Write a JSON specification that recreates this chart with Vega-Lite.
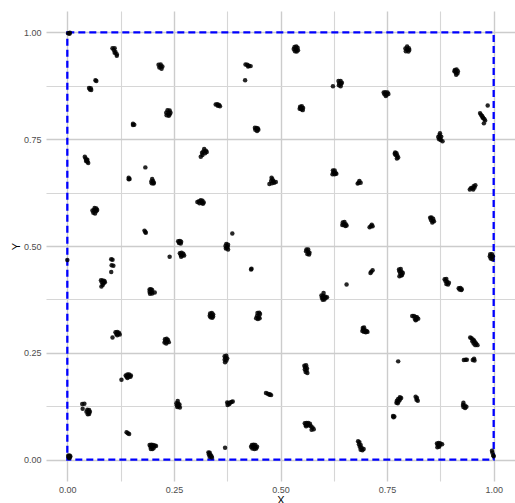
{
"$schema":"https://vega.github.io/schema/vega-lite/v6.json",
"width":469,"height":470,
"autosize":{"type":"none"},
"padding":{"left":46,"top":11,"right":0,"bottom":22},
"background":"white",
"config":{"view":{"stroke":null},"font":"Liberation Sans",
"axis":{"domain":false,"ticks":false,"labelOverlap":false,"labelFont":"Liberation Sans","labelFontSize":9,"labelColor":"#4d4d4d","titleFont":"Liberation Sans","titleFontSize":11,"titleFontWeight":"normal","titleColor":"#000000","gridColor":{"condition":{"test":"datum.value*8 % 2 == 0","value":"#cccccc"},"value":"#d6d6d6"},"gridWidth":{"condition":{"test":"datum.value*8 % 2 == 0","value":1.4},"value":1.1},"labelExpr":"datum.value*8 % 2 == 0 ? format(datum.value,'.2f') : ''"},
"axisX":{"labelPadding":4,"titlePadding":0},
"axisY":{"labelPadding":5,"titlePadding":2}},
"layer":[
{"data":{"values":[{"x0":0,"x1":1,"y0":0,"y1":1}]},
"mark":{"type":"rect","filled":false,"color":"#0000ff","strokeWidth":2.3,"strokeDash":[7,4]},
"encoding":{"x":{"field":"x0","type":"quantitative","title":"X","axis":{"values":[0,0.125,0.25,0.375,0.5,0.625,0.75,0.875,1]},"scale":{"domain":[-0.05,1.05],"nice":false,"zero":false}},"x2":{"field":"x1"},"y":{"field":"y0","type":"quantitative","title":"Y","axis":{"values":[0,0.125,0.25,0.375,0.5,0.625,0.75,0.875,1]},"scale":{"domain":[-0.05,1.05],"nice":false,"zero":false}},"y2":{"field":"y1"}}},
{"data":{"values":[
{"x":0.002,"y":0.998},{"x":0.006,"y":0.999},{"x":0.005,"y":0.997},
{"x":0.106,"y":0.963},{"x":0.111,"y":0.963},{"x":0.109,"y":0.959},{"x":0.113,"y":0.954},{"x":0.116,"y":0.949},{"x":0.116,"y":0.945},{"x":0.111,"y":0.952},
{"x":0.214,"y":0.924},{"x":0.219,"y":0.925},{"x":0.223,"y":0.920},{"x":0.216,"y":0.918},{"x":0.221,"y":0.915},{"x":0.219,"y":0.920},
{"x":0.051,"y":0.870},{"x":0.055,"y":0.869},{"x":0.053,"y":0.866},{"x":0.056,"y":0.865},{"x":0.066,"y":0.888},{"x":0.068,"y":0.886},
{"x":0.418,"y":0.925},{"x":0.422,"y":0.924},{"x":0.426,"y":0.922},{"x":0.430,"y":0.921},{"x":0.424,"y":0.920},{"x":0.417,"y":0.888},
{"x":0.348,"y":0.831},{"x":0.352,"y":0.832},{"x":0.356,"y":0.830},{"x":0.358,"y":0.827},{"x":0.353,"y":0.828},
{"x":0.235,"y":0.818},{"x":0.240,"y":0.817},{"x":0.242,"y":0.812},{"x":0.237,"y":0.810},{"x":0.233,"y":0.806},{"x":0.238,"y":0.805},{"x":0.232,"y":0.812},{"x":0.240,"y":0.808},
{"x":0.154,"y":0.786},{"x":0.157,"y":0.784},{"x":0.154,"y":0.783},
{"x":0.440,"y":0.777},{"x":0.444,"y":0.776},{"x":0.448,"y":0.772},{"x":0.445,"y":0.769},{"x":0.441,"y":0.772},{"x":0.447,"y":0.775},
{"x":0.041,"y":0.709},{"x":0.043,"y":0.705},{"x":0.045,"y":0.701},{"x":0.047,"y":0.697},{"x":0.049,"y":0.694},{"x":0.044,"y":0.699},{"x":0.047,"y":0.702},
{"x":0.321,"y":0.727},{"x":0.325,"y":0.723},{"x":0.319,"y":0.721},{"x":0.323,"y":0.717},{"x":0.317,"y":0.713},{"x":0.313,"y":0.709},{"x":0.316,"y":0.718},{"x":0.327,"y":0.720},
{"x":0.144,"y":0.660},{"x":0.146,"y":0.657},{"x":0.144,"y":0.656},{"x":0.183,"y":0.684},
{"x":0.199,"y":0.657},{"x":0.197,"y":0.651},{"x":0.201,"y":0.652},{"x":0.203,"y":0.648},{"x":0.198,"y":0.647},{"x":0.202,"y":0.646},
{"x":0.064,"y":0.589},{"x":0.068,"y":0.588},{"x":0.059,"y":0.583},{"x":0.063,"y":0.584},{"x":0.068,"y":0.582},{"x":0.061,"y":0.578},{"x":0.065,"y":0.576},{"x":0.070,"y":0.584},
{"x":0.305,"y":0.603},{"x":0.309,"y":0.605},{"x":0.313,"y":0.607},{"x":0.317,"y":0.606},{"x":0.320,"y":0.602},{"x":0.315,"y":0.601},{"x":0.310,"y":0.600},{"x":0.318,"y":0.599},
{"x":0.181,"y":0.536},{"x":0.183,"y":0.533},{"x":0.184,"y":0.531},
{"x":0.260,"y":0.511},{"x":0.264,"y":0.512},{"x":0.267,"y":0.510},{"x":0.262,"y":0.507},{"x":0.266,"y":0.506},{"x":0.263,"y":0.509},{"x":0.387,"y":0.529},
{"x":0.373,"y":0.505},{"x":0.377,"y":0.503},{"x":0.371,"y":0.500},{"x":0.376,"y":0.498},{"x":0.372,"y":0.494},{"x":0.377,"y":0.492},{"x":0.374,"y":0.496},
{"x":0.533,"y":0.966},{"x":0.537,"y":0.967},{"x":0.540,"y":0.964},{"x":0.531,"y":0.961},{"x":0.536,"y":0.960},{"x":0.541,"y":0.958},{"x":0.534,"y":0.956},{"x":0.538,"y":0.955},
{"x":0.797,"y":0.967},{"x":0.793,"y":0.962},{"x":0.801,"y":0.963},{"x":0.797,"y":0.960},{"x":0.794,"y":0.956},{"x":0.800,"y":0.955},{"x":0.802,"y":0.959},
{"x":0.909,"y":0.912},{"x":0.913,"y":0.913},{"x":0.916,"y":0.909},{"x":0.911,"y":0.906},{"x":0.915,"y":0.904},{"x":0.912,"y":0.901},{"x":0.908,"y":0.909},
{"x":0.636,"y":0.886},{"x":0.641,"y":0.886},{"x":0.638,"y":0.881},{"x":0.642,"y":0.879},{"x":0.637,"y":0.876},{"x":0.641,"y":0.874},{"x":0.644,"y":0.882},{"x":0.623,"y":0.874},
{"x":0.742,"y":0.859},{"x":0.746,"y":0.860},{"x":0.751,"y":0.859},{"x":0.744,"y":0.855},{"x":0.749,"y":0.854},{"x":0.747,"y":0.851},{"x":0.753,"y":0.856},
{"x":0.546,"y":0.826},{"x":0.550,"y":0.827},{"x":0.553,"y":0.823},{"x":0.545,"y":0.821},{"x":0.549,"y":0.820},{"x":0.552,"y":0.818},{"x":0.548,"y":0.823},
{"x":0.968,"y":0.811},{"x":0.970,"y":0.807},{"x":0.973,"y":0.804},{"x":0.975,"y":0.800},{"x":0.978,"y":0.797},{"x":0.980,"y":0.794},{"x":0.974,"y":0.801},{"x":0.986,"y":0.829},{"x":0.977,"y":0.787},
{"x":0.874,"y":0.764},{"x":0.873,"y":0.759},{"x":0.870,"y":0.755},{"x":0.874,"y":0.752},{"x":0.877,"y":0.756},{"x":0.876,"y":0.748},{"x":0.880,"y":0.745},{"x":0.872,"y":0.750},
{"x":0.769,"y":0.719},{"x":0.772,"y":0.717},{"x":0.770,"y":0.713},{"x":0.774,"y":0.711},{"x":0.776,"y":0.707},{"x":0.773,"y":0.705},{"x":0.768,"y":0.716},
{"x":0.623,"y":0.677},{"x":0.627,"y":0.677},{"x":0.624,"y":0.672},{"x":0.629,"y":0.671},{"x":0.622,"y":0.668},{"x":0.627,"y":0.668},{"x":0.631,"y":0.669},
{"x":0.685,"y":0.652},{"x":0.683,"y":0.648},{"x":0.688,"y":0.648},{"x":0.681,"y":0.646},
{"x":0.479,"y":0.660},{"x":0.481,"y":0.656},{"x":0.478,"y":0.652},{"x":0.483,"y":0.652},{"x":0.480,"y":0.647},{"x":0.485,"y":0.648},{"x":0.489,"y":0.650},{"x":0.474,"y":0.645},
{"x":0.944,"y":0.632},{"x":0.947,"y":0.636},{"x":0.950,"y":0.635},{"x":0.953,"y":0.640},{"x":0.957,"y":0.642},{"x":0.955,"y":0.637},{"x":0.952,"y":0.632},
{"x":0.646,"y":0.555},{"x":0.650,"y":0.556},{"x":0.653,"y":0.551},{"x":0.648,"y":0.550},{"x":0.652,"y":0.547},{"x":0.655,"y":0.548},{"x":0.645,"y":0.549},
{"x":0.714,"y":0.550},{"x":0.712,"y":0.546},{"x":0.716,"y":0.546},{"x":0.709,"y":0.544},
{"x":0.851,"y":0.566},{"x":0.854,"y":0.567},{"x":0.858,"y":0.564},{"x":0.853,"y":0.561},{"x":0.857,"y":0.559},{"x":0.856,"y":0.555},{"x":0.860,"y":0.558},
{"x":0.561,"y":0.492},{"x":0.565,"y":0.492},{"x":0.560,"y":0.488},{"x":0.565,"y":0.486},{"x":0.568,"y":0.484},{"x":0.563,"y":0.481},{"x":0.567,"y":0.480},
{"x":0.000,"y":0.467},
{"x":0.103,"y":0.469},{"x":0.106,"y":0.468},{"x":0.104,"y":0.455},{"x":0.108,"y":0.454},{"x":0.103,"y":0.439},
{"x":0.079,"y":0.420},{"x":0.083,"y":0.419},{"x":0.087,"y":0.418},{"x":0.081,"y":0.415},{"x":0.085,"y":0.413},{"x":0.083,"y":0.409},{"x":0.080,"y":0.405},{"x":0.088,"y":0.415},
{"x":0.193,"y":0.398},{"x":0.196,"y":0.399},{"x":0.199,"y":0.397},{"x":0.193,"y":0.393},{"x":0.197,"y":0.392},{"x":0.194,"y":0.388},{"x":0.199,"y":0.389},{"x":0.205,"y":0.391},
{"x":0.264,"y":0.483},{"x":0.268,"y":0.484},{"x":0.272,"y":0.482},{"x":0.266,"y":0.479},{"x":0.270,"y":0.478},{"x":0.267,"y":0.475},{"x":0.274,"y":0.478},{"x":0.240,"y":0.475},
{"x":0.431,"y":0.445},{"x":0.432,"y":0.447},
{"x":0.335,"y":0.342},{"x":0.339,"y":0.343},{"x":0.342,"y":0.340},{"x":0.334,"y":0.337},{"x":0.338,"y":0.337},{"x":0.342,"y":0.335},{"x":0.336,"y":0.333},{"x":0.340,"y":0.332},
{"x":0.446,"y":0.343},{"x":0.450,"y":0.344},{"x":0.452,"y":0.341},{"x":0.445,"y":0.336},{"x":0.449,"y":0.334},{"x":0.443,"y":0.331},{"x":0.447,"y":0.329},{"x":0.451,"y":0.331},
{"x":0.113,"y":0.298},{"x":0.117,"y":0.299},{"x":0.121,"y":0.297},{"x":0.115,"y":0.294},{"x":0.119,"y":0.294},{"x":0.123,"y":0.293},{"x":0.117,"y":0.291},{"x":0.106,"y":0.286},
{"x":0.229,"y":0.282},{"x":0.233,"y":0.283},{"x":0.236,"y":0.280},{"x":0.230,"y":0.277},{"x":0.234,"y":0.276},{"x":0.238,"y":0.275},{"x":0.232,"y":0.272},{"x":0.228,"y":0.274},
{"x":0.369,"y":0.242},{"x":0.373,"y":0.243},{"x":0.371,"y":0.238},{"x":0.375,"y":0.237},{"x":0.369,"y":0.234},{"x":0.373,"y":0.232},{"x":0.370,"y":0.228},
{"x":0.137,"y":0.197},{"x":0.141,"y":0.199},{"x":0.145,"y":0.199},{"x":0.149,"y":0.197},{"x":0.139,"y":0.194},{"x":0.144,"y":0.194},{"x":0.148,"y":0.194},{"x":0.141,"y":0.191},{"x":0.127,"y":0.187},
{"x":0.035,"y":0.130},{"x":0.040,"y":0.131},{"x":0.036,"y":0.119},{"x":0.047,"y":0.117},{"x":0.051,"y":0.116},{"x":0.045,"y":0.112},{"x":0.050,"y":0.111},{"x":0.053,"y":0.112},{"x":0.048,"y":0.106},{"x":0.051,"y":0.107},
{"x":0.259,"y":0.137},{"x":0.256,"y":0.132},{"x":0.260,"y":0.131},{"x":0.263,"y":0.129},{"x":0.257,"y":0.127},{"x":0.261,"y":0.125},{"x":0.264,"y":0.122},{"x":0.258,"y":0.123},
{"x":0.375,"y":0.134},{"x":0.378,"y":0.132},{"x":0.382,"y":0.134},{"x":0.385,"y":0.135},{"x":0.388,"y":0.136},{"x":0.380,"y":0.130},{"x":0.376,"y":0.128},
{"x":0.139,"y":0.064},{"x":0.142,"y":0.062},{"x":0.145,"y":0.060},
{"x":0.193,"y":0.034},{"x":0.197,"y":0.035},{"x":0.201,"y":0.034},{"x":0.205,"y":0.033},{"x":0.208,"y":0.032},{"x":0.195,"y":0.030},{"x":0.199,"y":0.030},{"x":0.203,"y":0.028},{"x":0.196,"y":0.025},{"x":0.200,"y":0.025},
{"x":0.002,"y":0.009},{"x":0.005,"y":0.010},{"x":0.007,"y":0.008},{"x":0.003,"y":0.006},{"x":0.006,"y":0.005},{"x":0.004,"y":0.004},
{"x":0.331,"y":0.017},{"x":0.334,"y":0.016},{"x":0.332,"y":0.012},{"x":0.336,"y":0.011},{"x":0.338,"y":0.008},{"x":0.334,"y":0.007},{"x":0.339,"y":0.005},{"x":0.370,"y":0.028},
{"x":0.433,"y":0.034},{"x":0.437,"y":0.035},{"x":0.441,"y":0.034},{"x":0.431,"y":0.030},{"x":0.436,"y":0.030},{"x":0.441,"y":0.029},{"x":0.445,"y":0.030},{"x":0.434,"y":0.026},{"x":0.439,"y":0.025},{"x":0.443,"y":0.026},
{"x":0.992,"y":0.481},{"x":0.996,"y":0.481},{"x":0.991,"y":0.476},{"x":0.995,"y":0.475},{"x":0.998,"y":0.476},{"x":0.993,"y":0.471},{"x":0.997,"y":0.469},
{"x":0.711,"y":0.437},{"x":0.713,"y":0.440},{"x":0.716,"y":0.443},
{"x":0.778,"y":0.445},{"x":0.782,"y":0.446},{"x":0.779,"y":0.441},{"x":0.784,"y":0.440},{"x":0.787,"y":0.437},{"x":0.781,"y":0.436},{"x":0.785,"y":0.432},{"x":0.779,"y":0.429},{"x":0.783,"y":0.431},
{"x":0.885,"y":0.422},{"x":0.889,"y":0.423},{"x":0.887,"y":0.418},{"x":0.891,"y":0.416},{"x":0.895,"y":0.414},{"x":0.889,"y":0.411},{"x":0.893,"y":0.410},
{"x":0.918,"y":0.401},{"x":0.922,"y":0.402},{"x":0.925,"y":0.399},{"x":0.920,"y":0.398},{"x":0.924,"y":0.397},
{"x":0.655,"y":0.410},
{"x":0.601,"y":0.390},{"x":0.596,"y":0.384},{"x":0.600,"y":0.383},{"x":0.604,"y":0.382},{"x":0.597,"y":0.379},{"x":0.601,"y":0.378},{"x":0.606,"y":0.379},{"x":0.609,"y":0.380},{"x":0.599,"y":0.374},{"x":0.603,"y":0.375},
{"x":0.809,"y":0.336},{"x":0.813,"y":0.336},{"x":0.817,"y":0.334},{"x":0.820,"y":0.333},{"x":0.815,"y":0.330},{"x":0.819,"y":0.328},{"x":0.823,"y":0.330},{"x":0.817,"y":0.326},
{"x":0.693,"y":0.308},{"x":0.696,"y":0.309},{"x":0.694,"y":0.304},{"x":0.698,"y":0.303},{"x":0.702,"y":0.301},{"x":0.696,"y":0.299},{"x":0.700,"y":0.298},{"x":0.704,"y":0.299},{"x":0.692,"y":0.301},
{"x":0.945,"y":0.286},{"x":0.948,"y":0.284},{"x":0.951,"y":0.281},{"x":0.954,"y":0.279},{"x":0.950,"y":0.277},{"x":0.956,"y":0.275},{"x":0.959,"y":0.272},{"x":0.957,"y":0.268},{"x":0.962,"y":0.268},{"x":0.953,"y":0.272},
{"x":0.930,"y":0.233},{"x":0.934,"y":0.234},{"x":0.937,"y":0.234},{"x":0.951,"y":0.233},{"x":0.954,"y":0.236},{"x":0.955,"y":0.232},
{"x":0.776,"y":0.230},
{"x":0.556,"y":0.220},{"x":0.560,"y":0.221},{"x":0.558,"y":0.216},{"x":0.562,"y":0.214},{"x":0.557,"y":0.211},{"x":0.561,"y":0.209},{"x":0.559,"y":0.205},{"x":0.563,"y":0.203},
{"x":0.466,"y":0.156},{"x":0.470,"y":0.154},{"x":0.474,"y":0.152},{"x":0.478,"y":0.151},{"x":0.475,"y":0.153},
{"x":0.780,"y":0.146},{"x":0.783,"y":0.144},{"x":0.776,"y":0.142},{"x":0.780,"y":0.140},{"x":0.773,"y":0.138},{"x":0.777,"y":0.136},{"x":0.772,"y":0.133},{"x":0.775,"y":0.132},
{"x":0.817,"y":0.147},{"x":0.820,"y":0.144},{"x":0.819,"y":0.140},{"x":0.822,"y":0.138},
{"x":0.929,"y":0.133},{"x":0.928,"y":0.128},{"x":0.932,"y":0.127},{"x":0.929,"y":0.123},{"x":0.933,"y":0.121},{"x":0.936,"y":0.124},
{"x":0.764,"y":0.102},{"x":0.767,"y":0.101},{"x":0.765,"y":0.099},
{"x":0.557,"y":0.085},{"x":0.561,"y":0.086},{"x":0.565,"y":0.086},{"x":0.569,"y":0.084},{"x":0.559,"y":0.081},{"x":0.563,"y":0.081},{"x":0.567,"y":0.080},{"x":0.571,"y":0.079},{"x":0.575,"y":0.075},{"x":0.578,"y":0.071},{"x":0.573,"y":0.070},{"x":0.560,"y":0.078},
{"x":0.682,"y":0.043},{"x":0.685,"y":0.041},{"x":0.684,"y":0.036},{"x":0.688,"y":0.034},{"x":0.686,"y":0.030},{"x":0.690,"y":0.028},{"x":0.688,"y":0.023},{"x":0.692,"y":0.022},{"x":0.695,"y":0.025},
{"x":0.867,"y":0.038},{"x":0.871,"y":0.039},{"x":0.875,"y":0.038},{"x":0.879,"y":0.036},{"x":0.869,"y":0.034},{"x":0.873,"y":0.033},{"x":0.868,"y":0.029},{"x":0.872,"y":0.030},
{"x":0.996,"y":0.021},{"x":0.997,"y":0.016},{"x":0.999,"y":0.010},{"x":1.000,"y":0.008}
]},
"mark":{"type":"circle","color":"#000000","opacity":0.85,"size":20},
"encoding":{"x":{"field":"x","type":"quantitative","title":"X"},"y":{"field":"y","type":"quantitative","title":"Y"}}}
]
}
